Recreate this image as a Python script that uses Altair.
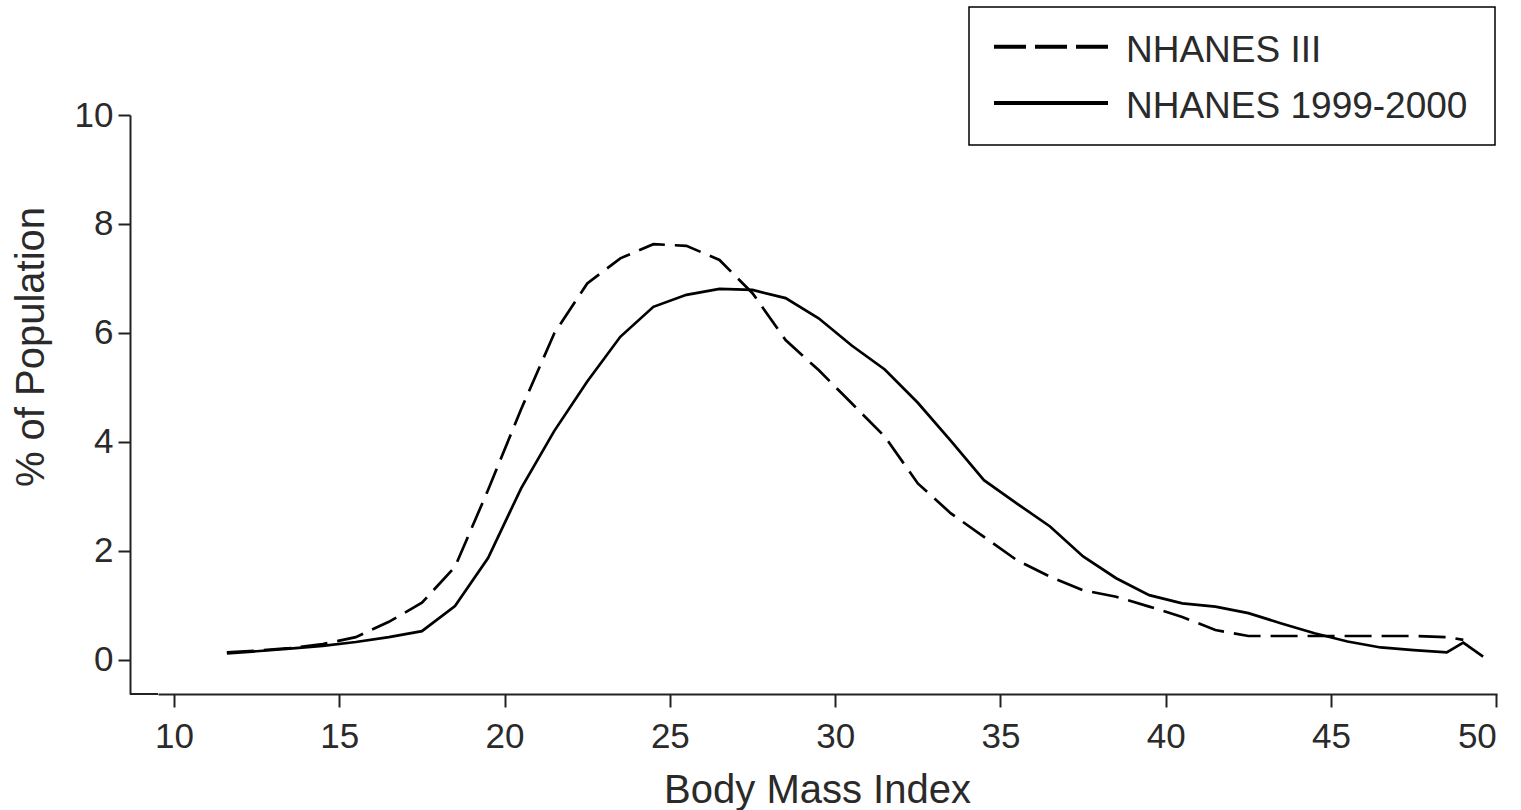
import altair as alt
import pandas as pd

# ---- data ----
series_names = ["NHANES III", "NHANES 1999-2000"]

bmi_iii = [11.6, 12.5, 13.5, 14.5, 15.5, 16.5, 17.5, 18.5, 19.5, 20.5,
           21.5, 22.5, 23.5, 24.5, 25.5, 26.5, 27.5, 28.5, 29.5, 30.5,
           31.5, 32.5, 33.5, 34.5, 35.5, 36.5, 37.5, 38.5, 39.5, 40.5,
           41.5, 42.5, 43.5, 44.5, 45.5, 46.5, 47.5, 48.5, 49.0]
pct_iii = [0.14, 0.17, 0.22, 0.29, 0.42, 0.70, 1.05, 1.71, 3.12, 4.60,
           5.99, 6.91, 7.37, 7.63, 7.60, 7.34, 6.73, 5.87, 5.32, 4.71,
           4.10, 3.24, 2.69, 2.26, 1.83, 1.53, 1.28, 1.16, 0.98, 0.79,
           0.55, 0.44, 0.44, 0.44, 0.44, 0.44, 0.44, 0.42, 0.37]

bmi_9900 = [11.6, 12.5, 13.5, 14.5, 15.5, 16.5, 17.5, 18.5, 19.5, 20.5,
            21.5, 22.5, 23.5, 24.5, 25.5, 26.5, 27.5, 28.5, 29.5, 30.5,
            31.5, 32.5, 33.5, 34.5, 35.5, 36.5, 37.5, 38.5, 39.5, 40.5,
            41.5, 42.5, 43.5, 44.5, 45.5, 46.5, 47.5, 48.5, 49.0, 49.6]
pct_9900 = [0.12, 0.16, 0.21, 0.26, 0.33, 0.42, 0.53, 0.99, 1.87, 3.15,
            4.20, 5.11, 5.93, 6.48, 6.70, 6.81, 6.79, 6.64, 6.27, 5.77,
            5.33, 4.72, 4.02, 3.30, 2.87, 2.45, 1.90, 1.50, 1.19, 1.04,
            0.98, 0.86, 0.67, 0.49, 0.34, 0.23, 0.18, 0.14, 0.32, 0.06]

x_ticks = [10, 15, 20, 25, 30, 35, 40, 45, 50]
y_ticks = [0, 2, 4, 6, 8, 10]

df_iii = pd.DataFrame({"bmi": bmi_iii, "pct": pct_iii})
df_9900 = pd.DataFrame({"bmi": bmi_9900, "pct": pct_9900})

FONT = "Liberation Sans"
TXT = "#2a2a2a"
W, H = 1339, 579

x_enc = alt.X(
    "bmi:Q",
    scale=alt.Scale(domain=[9.516, 50.02], nice=False, zero=False),
    axis=alt.Axis(
        title="Body Mass Index", values=x_ticks, grid=False,
        tickSize=13, labelPadding=40, labelBaseline="alphabetic",
        titleX=659, titleY=108, titleBaseline="alphabetic", titleAlign="center",
    ),
)
y_enc = alt.Y(
    "pct:Q",
    scale=alt.Scale(domain=[-0.624, 10], nice=False, zero=False),
    axis=alt.Axis(
        title="% of Population", values=y_ticks, grid=False, offset=28,
        tickSize=12, labelPadding=5,
        titleX=-87, titleY=231.5, titleAngle=270,
        titleBaseline="alphabetic", titleAlign="center",
    ),
)

dashed = alt.Chart(df_iii).mark_line(
    color="black", strokeWidth=2.7, strokeDash=[27, 10]
).encode(x=x_enc, y=y_enc)

solid = alt.Chart(df_9900).mark_line(
    color="black", strokeWidth=2.7
).encode(x=alt.X("bmi:Q"), y=alt.Y("pct:Q"))

one = alt.Data(values=[{"k": 1}])

stub = alt.Chart(one).mark_rule(color="#222", strokeWidth=2).encode(
    x=alt.value(-28), x2=alt.value(0), y=alt.value(H)
)

legend_box = alt.Chart(one).mark_rect(
    fill="white", stroke="black", strokeWidth=1.5
).encode(x=alt.value(811), x2=alt.value(1337), y=alt.value(-108), y2=alt.value(30))

leg_dash = alt.Chart(one).mark_rule(
    color="black", strokeWidth=4, strokeDash=[32, 9]
).encode(x=alt.value(836), x2=alt.value(950), y=alt.value(-68.3))

leg_solid = alt.Chart(one).mark_rule(
    color="black", strokeWidth=4
).encode(x=alt.value(836), x2=alt.value(950), y=alt.value(-12))

leg_txt1 = alt.Chart(pd.DataFrame({"label": [series_names[0]]})).mark_text(
    align="left", baseline="alphabetic", font=FONT, fontSize=37, color=TXT
).encode(x=alt.value(968), y=alt.value(-53.3), text="label:N")

leg_txt2 = alt.Chart(pd.DataFrame({"label": [series_names[1]]})).mark_text(
    align="left", baseline="alphabetic", font=FONT, fontSize=37, color=TXT
).encode(x=alt.value(968), y=alt.value(3), text="label:N")

chart = alt.layer(
    dashed, solid, stub, legend_box, leg_dash, leg_solid, leg_txt1, leg_txt2
).properties(
    width=W, height=H,
    autosize=alt.AutoSizeParams(type="none"),
    padding={"left": 158, "top": 115, "right": 24, "bottom": 116},
).configure_view(stroke=None).configure_axis(
    domainColor="#222", domainWidth=2, tickColor="#222", tickWidth=2,
    labelFont=FONT, labelFontSize=35, labelColor=TXT,
    titleFont=FONT, titleFontSize=40, titleFontWeight="normal", titleColor=TXT,
)

chart.save("out.html", embed_options={"renderer": "svg", "actions": False})
